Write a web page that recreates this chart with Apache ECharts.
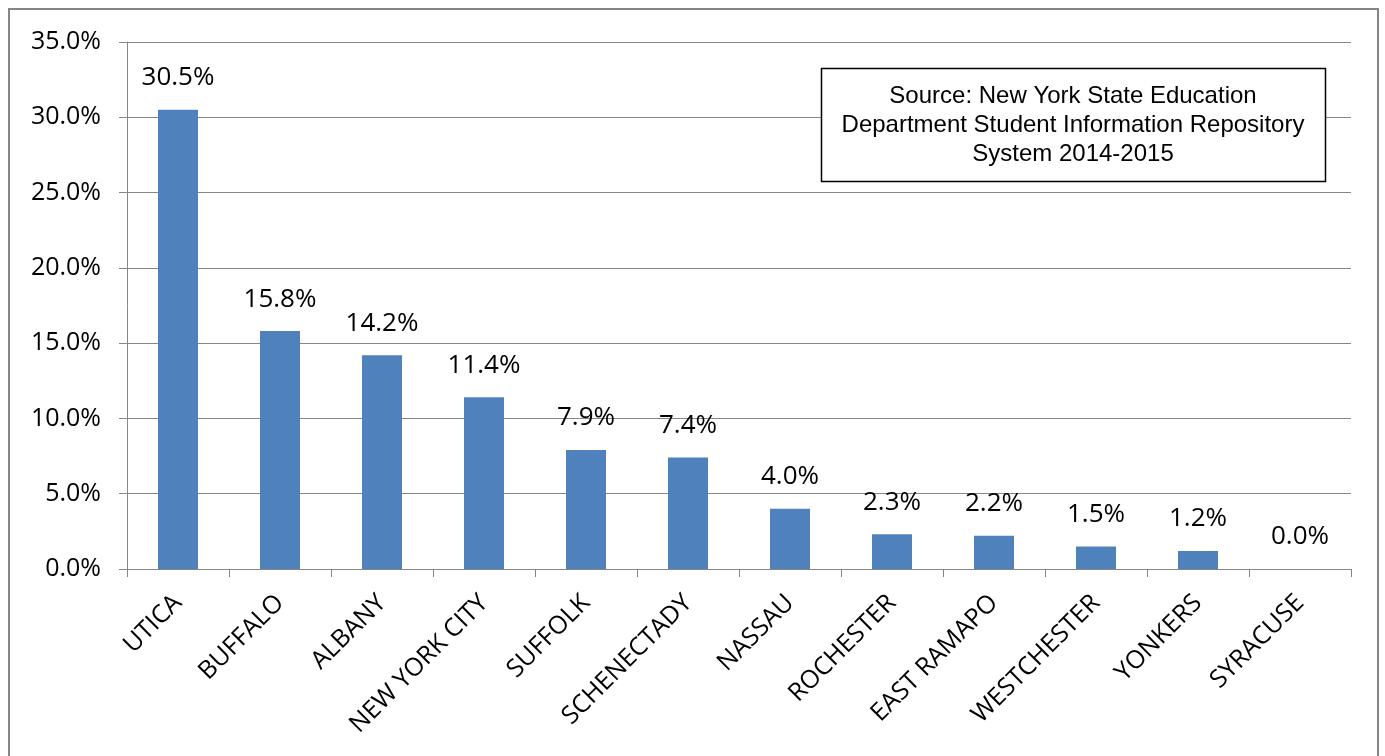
<!DOCTYPE html>
<html><head><meta charset="utf-8">
<script src="https://cdn.jsdelivr.net/npm/echarts@6/dist/echarts.min.js"></script>
<style>html,body{margin:0;padding:0;background:#fff}#c{width:1385px;height:756px}</style>
</head><body><div id="c"></div>
<script>
const categories = ['UTICA','BUFFALO','ALBANY','NEW YORK CITY','SUFFOLK','SCHENECTADY','NASSAU','ROCHESTER','EAST RAMAPO','WESTCHESTER','YONKERS','SYRACUSE'];
const values = [30.5, 15.8, 14.2, 11.4, 7.9, 7.4, 4.0, 2.3, 2.2, 1.5, 1.2, 0.0];
const sourceLines = ['Source: New York State Education','Department Student Information Repository','System 2014-2015'];

const chart = echarts.init(document.getElementById('c'));
const font = '"Open Sans", "DejaVu Sans", sans-serif';
chart.setOption({
  animation: false,
  grid: {left: 127, right: 34, top: 42, bottom: 187, containLabel: false},
  xAxis: {
    type: 'category', data: categories,
    axisLine: {lineStyle: {color: '#868686', width: 1}},
    axisTick: {show: true, length: 8, lineStyle: {color: '#868686'}},
    axisLabel: {rotate: 45, color: '#000', fontFamily: font, fontSize: 25, margin: 30}
  },
  yAxis: {
    type: 'value', min: 0, max: 35, interval: 5,
    axisLine: {show: true, lineStyle: {color: '#868686'}},
    axisTick: {show: true, length: 8, lineStyle: {color: '#868686'}},
    splitLine: {lineStyle: {color: '#868686', width: 1}},
    axisLabel: {formatter: v => v.toFixed(1) + '%', color: '#000', fontFamily: font, fontSize: 25, margin: 26}
  },
  series: [{
    type: 'bar', data: values, barWidth: 40,
    itemStyle: {color: '#4F81BD'},
    label: {show: true, position: 'top', distance: 19, formatter: p => p.value.toFixed(1) + '%', color: '#000', fontFamily: font, fontSize: 26}
  }],
  graphic: [
    {type: 'rect', shape: {x: 9, y: 9, width: 1369, height: 760}, style: {fill: 'none', stroke: '#868686', lineWidth: 2}, silent: true},
    {type: 'rect', shape: {x: 821.5, y: 68.5, width: 504, height: 113}, style: {fill: '#fff', stroke: '#000', lineWidth: 1.5}, z: 100},
    {type: 'text', x: 1073, y: 125, z: 101,
      style: {text: sourceLines.join('\n'), textAlign: 'center', textVerticalAlign: 'middle', font: '24px "Liberation Sans", Arial, sans-serif', fill: '#000', lineHeight: 29}}
  ]
});
</script></body></html>
